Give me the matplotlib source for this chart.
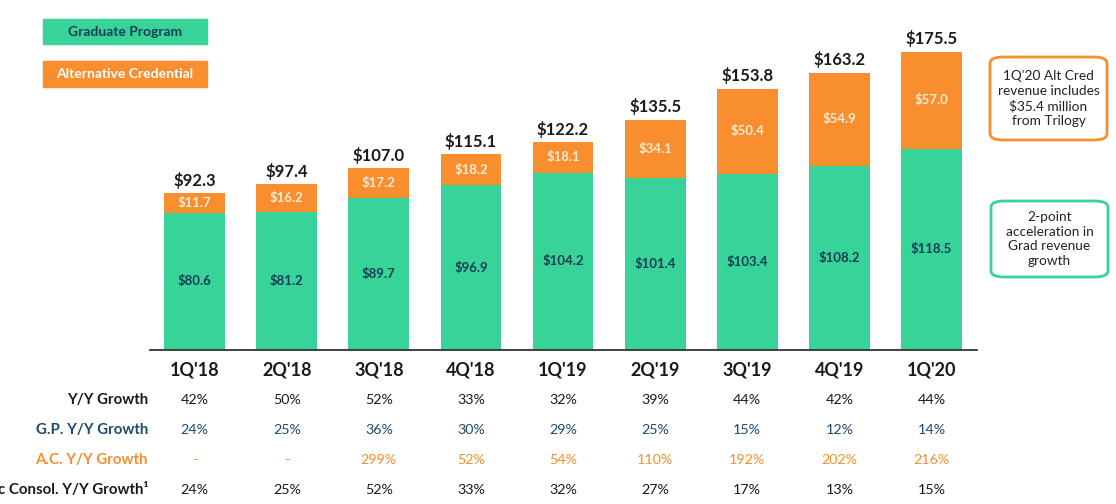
import matplotlib.pyplot as plt
from matplotlib.patches import FancyBboxPatch
import numpy as np

plt.rcParams['font.family'] = ['Lato', 'DejaVu Sans']

quarters = ["1Q'18", "2Q'18", "3Q'18", "4Q'18", "1Q'19", "2Q'19", "3Q'19", "4Q'19", "1Q'20"]
grad = [80.6, 81.2, 89.7, 96.9, 104.2, 101.4, 103.4, 108.2, 118.5]
alt = [11.7, 16.2, 17.2, 18.2, 18.1, 34.1, 50.4, 54.9, 57.0]
totals = [92.3, 97.4, 107.0, 115.1, 122.2, 135.5, 153.8, 163.2, 175.5]

row_labels = ["Y/Y Growth", "G.P. Y/Y Growth", "A.C. Y/Y Growth", "c Consol. Y/Y Growth\u00b9"]
yy_growth = ["42%", "50%", "52%", "33%", "32%", "39%", "44%", "42%", "44%"]
gp_growth = ["24%", "25%", "36%", "30%", "29%", "25%", "15%", "12%", "14%"]
ac_growth = ["-", "-", "299%", "52%", "54%", "110%", "192%", "202%", "216%"]
consol_growth = ["24%", "25%", "52%", "33%", "32%", "27%", "17%", "13%", "15%"]

GREEN = "#37D399"
ORANGE = "#F88E2E"
NAVY = "#173F54"
GP_BLUE = "#1D4A6E"
DARK = "#1A1A1A"

W, H = 1116, 504
fig = plt.figure(figsize=(W / 100, H / 100), dpi=100)

# axes: x pixels 150..977, baseline at y=350
ax = fig.add_axes([150 / W, (H - 350) / H, (977 - 150) / W, 350 / H])
x = np.arange(len(quarters))
ax.set_xlim(-0.485, 8.495)
ax.set_ylim(0, 350 / 1.70)

ax.bar(x, grad, width=0.66, color=GREEN)
ax.bar(x, alt, width=0.66, bottom=grad, color=ORANGE)

for i in range(len(quarters)):
    ax.text(x[i], grad[i] / 2, f"${grad[i]:.1f}", ha="center", va="center",
            fontsize=9.5, fontweight="bold", color=NAVY)
    ax.text(x[i], grad[i] + alt[i] / 2, f"${alt[i]:.1f}", ha="center", va="center",
            fontsize=9.5, fontweight="bold", color="#FDEBD6")
    ax.text(x[i], totals[i] + 2.5, f"${totals[i]:.1f}", ha="center", va="bottom",
            fontsize=12, fontweight="bold", color=DARK)

for s in ["top", "right", "left"]:
    ax.spines[s].set_visible(False)
ax.spines["bottom"].set_color("#333333")
ax.spines["bottom"].set_linewidth(1.3)
ax.set_yticks([])
ax.set_xticks(x)
ax.set_xticklabels(quarters, fontsize=13, fontweight="bold", color=DARK)
ax.tick_params(axis="x", length=0, pad=8)

# growth table below the chart
rows = [yy_growth, gp_growth, ac_growth, consol_growth]
row_colors = [DARK, GP_BLUE, ORANGE, DARK]
row_y = [400, 430, 460, 490]
trans = ax.get_xaxis_transform()
for r in range(len(rows)):
    yy = 1 - row_y[r] / H
    fig.text(148 / W, yy, row_labels[r], ha="right", va="center",
             fontsize=10.8, fontweight="bold", color=row_colors[r])
    for i in range(len(quarters)):
        ax.text(x[i], -(row_y[r] - 350) / 350, rows[r][i], transform=trans,
                ha="center", va="center", fontsize=10.3, color=row_colors[r],
                clip_on=False)

# legend boxes
fig.patches.append(plt.Rectangle((43 / W, 1 - 44 / H), 164 / W, 25 / H,
                                 transform=fig.transFigure, color=GREEN))
fig.text(125 / W, 1 - 32 / H, "Graduate Program", ha="center", va="center",
         fontsize=10, fontweight="bold", color=NAVY)
fig.patches.append(plt.Rectangle((43 / W, 1 - 87 / H), 164 / W, 26 / H,
                                 transform=fig.transFigure, color=ORANGE))
fig.text(125 / W, 1 - 74 / H, "Alternative Credential", ha="center", va="center",
         fontsize=10, fontweight="bold", color="white")

# callout boxes
def callout(x0, y0, x1, y1, color, text):
    box = FancyBboxPatch((x0 / W, 1 - y1 / H), (x1 - x0) / W, (y1 - y0) / H,
                         boxstyle="round,pad=0,rounding_size=0.012",
                         transform=fig.transFigure, fill=False,
                         edgecolor=color, linewidth=2)
    fig.patches.append(box)
    fig.text((x0 + x1) / 2 / W, 1 - (y0 + y1) / 2 / H, text, ha="center",
             va="center", fontsize=9.8, color="#222222", linespacing=1.25)

callout(990, 57, 1107, 140, ORANGE, "1Q'20 Alt Cred\nrevenue includes\n$35.4 million\nfrom Trilogy")
callout(991, 201, 1108, 277, GREEN, "2-point\nacceleration in\nGrad revenue\ngrowth")

fig.savefig("out.png", dpi=100)
